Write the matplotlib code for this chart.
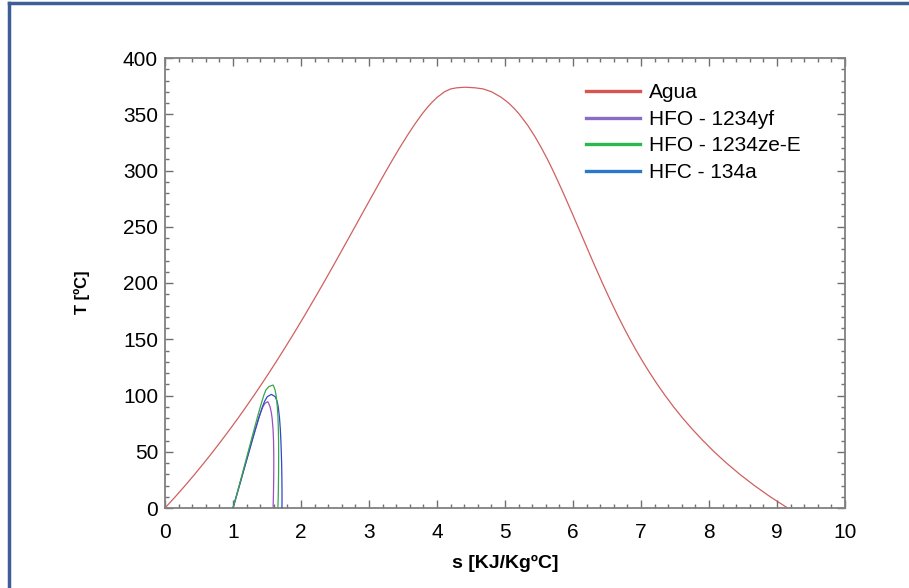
"""T-s saturation domes: water vs. refrigerants."""

import matplotlib
matplotlib.use("Agg")
import matplotlib.pyplot as plt
from matplotlib.lines import Line2D
from matplotlib.ticker import MultipleLocator

plt.rcParams["font.family"] = ["Liberation Sans", "DejaVu Sans"]

# --- data (s in kJ/kg K, T in degC) ---
agua_T = [0, 10, 20, 30, 40, 50, 60, 70, 80, 90, 100, 110, 120, 130, 140,
          150, 160, 170, 180, 190, 200, 210, 220, 230, 240, 250, 260, 270,
          280, 290, 300, 310, 320, 330, 340, 350, 355, 360, 365, 370, 372.5,
          373.5, 374]
agua_sf = [0.000, 0.151, 0.297, 0.437, 0.572, 0.704, 0.831, 0.955, 1.076,
           1.193, 1.307, 1.419, 1.528, 1.635, 1.739, 1.842, 1.943, 2.042,
           2.139, 2.236, 2.331, 2.425, 2.518, 2.610, 2.702, 2.794, 2.885,
           2.977, 3.069, 3.161, 3.255, 3.351, 3.449, 3.552, 3.660, 3.778,
           3.844, 3.917, 4.001, 4.111, 4.200, 4.290, 4.400]
agua_sg = [9.156, 8.900, 8.666, 8.452, 8.256, 8.075, 7.910, 7.755, 7.611,
           7.478, 7.355, 7.239, 7.130, 7.027, 6.930, 6.838, 6.750, 6.666,
           6.586, 6.508, 6.432, 6.359, 6.286, 6.215, 6.144, 6.073, 6.002,
           5.930, 5.857, 5.782, 5.705, 5.624, 5.536, 5.442, 5.336, 5.211,
           5.138, 5.053, 4.946, 4.801, 4.680, 4.560, 4.420]

yf_T = [0, 10, 20, 30, 40, 50, 60, 70, 80, 85, 90, 93, 94.5]
yf_sf = [1.000, 1.047, 1.094, 1.140, 1.186, 1.233, 1.279, 1.327, 1.378,
         1.406, 1.440, 1.470, 1.510]
yf_sg = [1.590, 1.594, 1.597, 1.599, 1.600, 1.599, 1.596, 1.589, 1.575,
         1.563, 1.545, 1.525, 1.510]

ze_T = [0, 10, 20, 30, 40, 50, 60, 70, 80, 90, 100, 105, 108, 109.3]
ze_sf = [1.000, 1.046, 1.091, 1.135, 1.179, 1.223, 1.267, 1.311, 1.356,
         1.402, 1.452, 1.485, 1.530, 1.590]
ze_sg = [1.660, 1.665, 1.668, 1.670, 1.671, 1.671, 1.670, 1.667, 1.662,
         1.652, 1.634, 1.618, 1.600, 1.590]

r134_T = [0, 10, 20, 30, 40, 50, 60, 70, 80, 90, 95, 99, 101]
r134_sf = [1.000, 1.048, 1.095, 1.142, 1.189, 1.236, 1.283, 1.331, 1.380,
           1.433, 1.466, 1.505, 1.565]
r134_sg = [1.720, 1.721, 1.720, 1.718, 1.715, 1.710, 1.704, 1.696, 1.684,
           1.665, 1.648, 1.620, 1.565]

series = [
    ("Agua", agua_T, agua_sf, agua_sg, "#d06060", "#d9534f", 1),
    ("HFO - 1234yf", yf_T, yf_sf, yf_sg, "#9a50c0", "#8a6cc2", 2),
    ("HFO - 1234ze-E", ze_T, ze_sf, ze_sg, "#3aa64a", "#2db84d", 4),
    ("HFC - 134a", r134_T, r134_sf, r134_sg, "#3048cc", "#2b78c9", 3),
]


def dome(T, sf, sg):
    s = list(sf) + list(sg[::-1])
    t = list(T) + list(T[::-1])
    return s, t


fig = plt.figure(figsize=(9.09, 5.88), dpi=100)
ax = fig.add_axes([165 / 909, 1 - 508 / 588, 680 / 909, 450 / 588])

handles = []
for label, T, sf, sg, col, lcol, z in series:
    s, t = dome(T, sf, sg)
    ax.plot(s, t, color=col, lw=0.9, zorder=z)
    handles.append(Line2D([], [], color=lcol, lw=2.4, label=label))

ax.set_xlim(0, 10)
ax.set_ylim(0, 400)
ax.xaxis.set_major_locator(MultipleLocator(1))
ax.xaxis.set_minor_locator(MultipleLocator(0.2))
ax.yaxis.set_major_locator(MultipleLocator(50))
ax.yaxis.set_minor_locator(MultipleLocator(10))
ax.tick_params(which="both", direction="in", top=True, right=True,
               color="#707070", labelsize=15, width=1.0)
ax.tick_params(which="major", length=6)
ax.tick_params(which="minor", length=3)
ax.tick_params(axis="x", pad=11)
ax.tick_params(axis="y", pad=5)
for sp in ax.spines.values():
    sp.set_color("#808080")
    sp.set_linewidth(1.3)

ax.set_xlabel("s [KJ/KgºC]", fontsize=14, fontweight="bold")
ax.set_ylabel("T [ºC]", fontsize=12, fontweight="bold")
ax.xaxis.set_label_coords(0.5, -47 / 450)
ax.yaxis.set_label_coords(-75 / 680, 0.48)

ax.legend(handles=handles, loc="upper left", bbox_to_anchor=(0.607, 0.962),
          frameon=False, fontsize=15, handlelength=2.6, handletextpad=0.4,
          labelspacing=0.36, borderaxespad=0)

# screenshot border on the left and top edges
border = dict(color="#3d5f95", lw=2.5, transform=fig.transFigure)
fig.add_artist(Line2D([9 / 909, 9 / 909], [0, 1 - 3 / 588], **border))
fig.add_artist(Line2D([9 / 909, 1], [1 - 3 / 588, 1 - 3 / 588], **border))

fig.savefig("out.png", dpi=100)
